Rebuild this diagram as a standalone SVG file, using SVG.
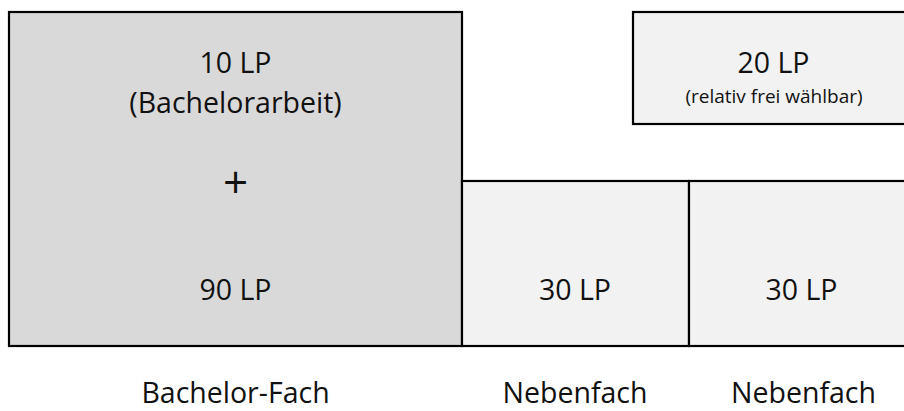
<svg xmlns="http://www.w3.org/2000/svg" width="904" height="411" viewBox="0 0 904 411">
<style>
.box{stroke:#000;stroke-width:2.2}
.dark{fill:#d9d9d9}
.light{fill:#f2f2f2}
text{font-family:"Open Sans","Noto Sans","DejaVu Sans",sans-serif;fill:#111;text-anchor:middle}
.big{font-size:28.5px}
.small{font-size:19px}
.plus{font-size:44px}
</style>
<rect width="904" height="411" fill="#fff"/>
<g id="bachelor-fach">
<rect class="box dark" x="9" y="12" width="453" height="334"/>
<text class="big" x="235.5" y="73">10 LP</text>
<text class="big" x="235.5" y="113">(Bachelorarbeit)</text>
<text class="plus" x="235.5" y="198">+</text>
<text class="big" x="235.5" y="300">90 LP</text>
</g>
<g id="frei">
<rect class="box light" x="633" y="12" width="281" height="112"/>
<text class="big" x="773.5" y="73">20 LP</text>
<text class="small" x="774" y="103">(relativ frei wählbar)</text>
</g>
<g id="nebenfach1">
<rect class="box light" x="462" y="181" width="227" height="165"/>
<text class="big" x="575" y="300">30 LP</text>
</g>
<g id="nebenfach2">
<rect class="box light" x="689" y="181" width="225" height="165"/>
<text class="big" x="801.5" y="300">30 LP</text>
</g>
<g id="labels">
<text class="big" x="235.5" y="403">Bachelor-Fach</text>
<text class="big" x="575" y="403">Nebenfach</text>
<text class="big" x="803.5" y="403">Nebenfach</text>
</g>
<g id="connectors"/>
</svg>
